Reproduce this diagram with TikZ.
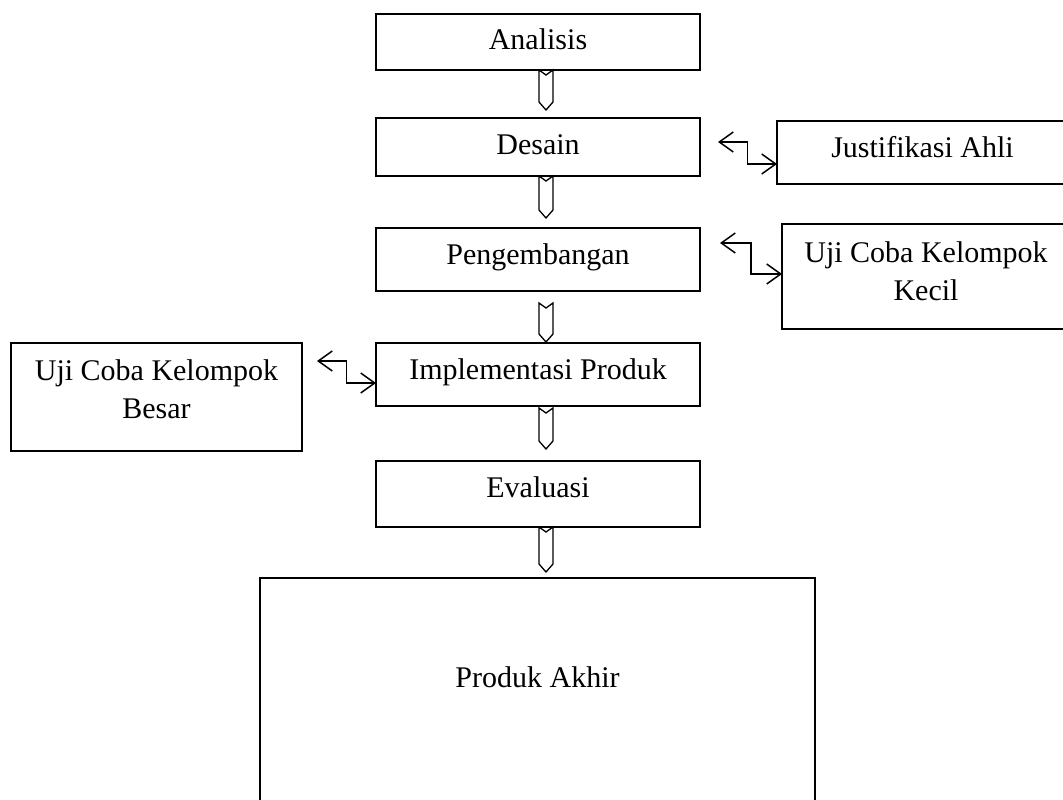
\documentclass[tikz,border=0pt]{standalone}
\usepackage{fontspec}
\setmainfont{Liberation Serif}
\usetikzlibrary{calc,arrows.meta}
\tikzset{
  box/.style={draw, line width=1.4pt, inner sep=0pt, outer sep=0pt, anchor=base,
    font=\fontsize{30}{38}\selectfont},
  blockarrow/.style={draw, line width=1.3pt, line join=miter},
  zz/.style={line width=1.5pt, {Straight Barb[length=14pt,width=20pt,line width=1.5pt]}-{Straight Barb[length=14pt,width=20pt,line width=1.5pt]}}
}
\newcommand{\blockarr}[2]{%
  \draw[blockarrow] ($(#1)+(-7,0)$) -- ($(#1)+(0,-5)$) -- ($(#1)+(7,0)$)
    -- ($(#2)+(7,8)$) -- (#2) -- ($(#2)+(-7,8)$) -- cycle;}
\begin{document}
\begin{tikzpicture}[x=1pt,y=1pt]
\useasboundingbox (0,0) rectangle (1063,-800);
\clip (0,0) rectangle (1063,-800);
\fill[white] (0,0) rectangle (1063,-800);

% main column
\node[box, minimum width=324pt, text height=36pt, text depth=20pt] (ana) at (538,-50) {Analisis};
\node[box, minimum width=324pt, text height=36pt, text depth=22pt] (des) at (538,-154) {Desain};
\node[box, minimum width=324pt, text height=36pt, text depth=27pt] (pen) at (538,-264) {Pengembangan};
\node[box, minimum width=324pt, text height=36pt, text depth=27pt] (imp) at (538,-379) {Implementasi Produk};
\node[box, minimum width=324pt, text height=36pt, text depth=30pt] (eva) at (538,-497) {Evaluasi};
\node[box, minimum width=555pt, text height=109pt, text depth=143pt] (pro) at (537.5,-687) {Produk Akhir};

% side boxes
\node[box, minimum width=291pt, text height=36pt, text depth=27pt] (jus) at (922.5,-157) {Justifikasi Ahli};
\node[box, minimum width=288pt, text height=38pt, text depth=67pt] (kec) at (926,-262)
  {\begin{tabular}[t]{@{}c@{}}Uji Coba Kelompok\\Kecil\end{tabular}};
\node[box, minimum width=291pt, text height=37pt, text depth=71pt] (bes) at (156.5,-380)
  {\begin{tabular}[t]{@{}c@{}}Uji Coba Kelompok\\Besar\end{tabular}};

% block arrows
\coordinate (a1s) at ($(ana.south)+(8,0)$);   \coordinate (a1e) at ($(des.north)+(8,8)$);
\coordinate (a2s) at ($(des.south)+(8,0)$);   \coordinate (a2e) at ($(pen.north)+(8,10)$);
\coordinate (a3s) at ($(pen.south)+(8,-12)$); \coordinate (a3e) at ($(imp.north)+(8,1)$);
\coordinate (a4s) at ($(imp.south)+(8,-2)$);  \coordinate (a4e) at ($(eva.north)+(8,12)$);
\coordinate (a5s) at ($(eva.south)+(8,0)$);   \coordinate (a5e) at ($(pro.north)+(8.5,6)$);
\blockarr{a1s}{a1e}
\blockarr{a2s}{a2e}
\blockarr{a3s}{a3e}
\blockarr{a4s}{a4e}
\blockarr{a5s}{a5e}

% zigzag double arrows
\coordinate (p1) at ($(des.east)+(18,5)$);    \coordinate (q1) at ($(jus.west)+(0,-11.5)$);
\draw[zz] (p1) -| ($(p1)!.5!(q1)$) |- (q1);
\coordinate (p2) at ($(pen.east)+(20,16.5)$); \coordinate (q2) at ($(kec.west)+(0,2.5)$);
\draw[zz] (p2) -| ($(p2)!.5!(q2)$) |- (q2);
\coordinate (p3) at ($(bes.east)+(15,36)$);   \coordinate (q3) at ($(imp.west)+(0,-8.5)$);
\draw[zz] (p3) -| ($(p3)!.5!(q3)$) |- (q3);
\end{tikzpicture}
\end{document}
